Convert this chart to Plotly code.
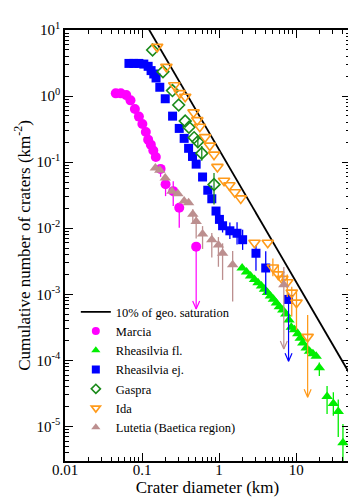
import plotly.graph_objects as go

# ---------------- data ----------------
marcia_D = [0.0456, 0.0530, 0.0624, 0.0708, 0.0807, 0.0910, 0.101, 0.112, 0.120, 0.130,
            0.140, 0.151, 0.174, 0.202, 0.254, 0.304, 0.504]
marcia_N = [1.10, 1.10, 1.035, 0.862, 0.638, 0.489, 0.378, 0.286, 0.219, 0.184,
            0.150, 0.120, 0.0791, 0.0463, 0.0364, 0.0204, 0.00526]
marcia_ep = [0] * 12 + [0.0117, 0.0087, 0.0150, 0.0039, 0]
marcia_em = [0] * 12 + [0.0191, 0.0157, 0.0147, 0.0102, 0]
marcia_tip = 5.98e-4

rfl_D = [1.99, 2.27, 2.56, 2.88, 3.20, 3.55, 3.88, 4.24, 4.63, 5.07, 5.54, 6.05, 6.71, 7.34,
         8.07, 8.65, 9.53, 10.5, 11.3, 12.2, 13.5, 14.9, 16.5, 18.2, 20.0, 25.2, 30.4, 35.2, 40.5]
rfl_N = [2.51e-3, 2.18e-3, 1.90e-3, 1.68e-3, 1.50e-3, 1.34e-3, 1.19e-3, 1.06e-3, 9.46e-4,
         8.45e-4, 7.36e-4, 6.48e-4, 5.78e-4, 5.03e-4, 4.09e-4, 3.18e-4, 2.90e-4, 2.52e-4,
         2.17e-4, 1.83e-4, 1.54e-4, 1.37e-4, 1.26e-4, 1.15e-4, 7.72e-5, 2.84e-5, 2.23e-5,
         1.69e-5, 5.66e-6]
rfl_ep = [0] * 24 + [1.55e-5, 1.26e-5, 1.06e-5, 0.87e-5, 5.2e-6]
rfl_em = [0] * 24 + [1.94e-5, 1.30e-5, 0.78e-5, 1.0e-5, 3.65e-6]

rej_D = [0.0676, 0.0783, 0.0910, 0.1054, 0.120, 0.131, 0.142, 0.152, 0.170, 0.200, 0.249,
         0.304, 0.352, 0.402, 0.452, 0.504, 0.610, 0.713, 0.804, 0.912, 1.01, 1.11, 1.38,
         1.71, 2.02, 3.01, 4.03, 7.97]
rej_N = [3.12, 3.12, 3.12, 3.05, 2.82, 2.43, 2.16, 1.88, 1.36, 0.911, 0.497, 0.324, 0.229,
         0.162, 0.122, 0.0933, 0.0596, 0.0376, 0.0279, 0.0182, 0.0136, 0.0109, 0.00914,
         0.00839, 0.00670, 0.00418, 0.00250, 0.000836]
rej_ep = [0] * 19 + [0.0020, 0.0030, 0.0030, 0.0031, 0.0039, 0.0028, 0.0013, 0.0020, 0.00019]
rej_em = [0] * 19 + [0.0020, 0.0025, 0.0023, 0.0023, 0.0027, 0.0020, 0.0019, 0.0015, 0]
rej_tip = 9.7e-5

gaspra_D = [0.137, 0.187, 0.248, 0.299, 0.363, 0.406, 0.474, 0.530, 0.596, 0.859]
gaspra_N = [4.98, 2.33, 1.21, 0.733, 0.418, 0.337, 0.235, 0.204, 0.136, 0.0458]
gaspra_ep = [0, 0, 0, 0, 0, 0, 0, 0.0386, 0.040, 0.0226]
gaspra_em = [0, 0, 0, 0, 0, 0, 0, 0.0324, 0.031, 0.0229]

ida_D = [0.157, 0.207, 0.262, 0.308, 0.363, 0.466, 0.521, 0.562, 0.658, 0.757, 0.859, 0.951,
         1.16, 1.36, 1.60, 1.91, 2.88, 4.28, 4.99, 5.87, 6.62, 7.67, 8.77, 10.1, 14.1]
ida_N = [5.56, 2.77, 1.46, 1.11, 0.976, 0.566, 0.432, 0.343, 0.239, 0.178, 0.130, 0.0847,
         0.0523, 0.0447, 0.0351, 0.0283, 6.04e-3, 6.04e-3, 2.55e-3, 2.00e-3, 1.71e-3,
         1.52e-3, 1.06e-3, 7.48e-4, 2.27e-4]
ida_ep = [0] * 18 + [0.93e-3, 0.73e-3, 0.39e-3, 0.48e-3, 0.24e-3, 0.40e-3, 2.59e-4]
ida_em = [0] * 18 + [0.68e-3, 0.37e-3, 0.41e-3, 0.61e-3, 0.60e-3, 0.46e-3, 0]
ida_tip = 2.77e-5

lut_D = [0.149, 0.170, 0.200, 0.244, 0.292, 0.352, 0.402, 0.456, 0.504, 0.610, 0.804, 0.980,
         1.11, 1.50, 6.92]
lut_N = [0.0813, 0.0751, 0.0576, 0.0364, 0.0331, 0.0258, 0.0243, 0.0163, 0.0126, 0.00816,
         0.00670, 0.00558, 0.00418, 0.00280, 0.00139]
lut_ep = [0] * 7 + [0.0031, 0.0029, 0.0026, 0.0018, 0.00177, 0.00173, 0.00174, 0.0012]
lut_em = [0] * 7 + [0.0039, 0.0056, 0.0033, 0.0031, 0.00297, 0.00253, 0.00202, 0]
lut_tip = 1.49e-4

# 10% of geometric saturation (N = 0.154 D^-2), end points
sat_D = [0.1, 50]
sat_N = [15.4, 6.16e-5]

x_tickvals = [0.01, 0.1, 1, 10]
x_ticktext = ["0.01", "0.1", "1", "10"]
y_tickvals = [1e-5, 1e-4, 1e-3, 1e-2, 1e-1, 1, 10]
y_ticktext = ["10<sup>-5</sup>", "10<sup>-4</sup>", "10<sup>-3</sup>", "10<sup>-2</sup>",
              "10<sup>-1</sup>", "10<sup>0</sup>", "10<sup>1</sup>"]

# ---------------- styles ----------------
FONT = "Liberation Serif, DejaVu Serif, Times New Roman, serif"
C_MAR = "#ff00ff"
C_RFL = "#00ee00"
C_REJ = "#0000ff"
C_GAS = "#1a8a1a"
C_IDA = "#ff9a1a"
C_LUT = "#bc8f8f"
AH_W = 1.11   # arrow head half width factor (log x)
AH_H = 1.32   # arrow head height factor (log y)

fig = go.Figure()

fig.add_trace(go.Scatter(x=sat_D, y=sat_N, mode="lines", name="10% of geo. saturation",
                         line=dict(color="black", width=1.8), legendrank=1))

rank = [2]


def add_series(name, D, N, ep, em, color, symbol, size, lw=0, leg_size=8):
    fig.add_trace(go.Scatter(
        x=D, y=N, mode="markers", name=name, legendgroup=name, showlegend=False,
        marker=dict(color=color, symbol=symbol, size=size, line=dict(color=color, width=lw)),
        error_y=dict(type="data", symmetric=False, array=ep, arrayminus=em,
                     color=color, thickness=1.3, width=0),
    ))
    # legend entry with a smaller symbol, as in the original figure
    fig.add_trace(go.Scatter(
        x=[None], y=[None], mode="markers", name=name, legendgroup=name,
        legendrank=rank[0],
        marker=dict(color=color, symbol=symbol, size=leg_size,
                    line=dict(color=color, width=lw)),
    ))
    rank[0] += 1


def add_arrow(D, N, tip, color):
    x = D[-1]
    y = N[-1]
    xs = [x, x, None, x * AH_W, x, x / AH_W]
    ys = [y, tip, None, tip * AH_H, tip, tip * AH_H]
    fig.add_trace(go.Scatter(x=xs, y=ys, mode="lines", showlegend=False, hoverinfo="skip",
                             line=dict(color=color, width=1.2)))


add_series("Marcia", marcia_D, marcia_N, marcia_ep, marcia_em, C_MAR, "circle", 10)
add_series("Rheasilvia fl.", rfl_D, rfl_N, rfl_ep, rfl_em, C_RFL, "triangle-up", 10)
add_series("Rheasilvia ej.", rej_D, rej_N, rej_ep, rej_em, C_REJ, "square", 9)
add_series("Gaspra", gaspra_D, gaspra_N, gaspra_ep, gaspra_em, C_GAS, "diamond-open", 9, 1.6, 7)
add_series("Ida", ida_D, ida_N, ida_ep, ida_em, C_IDA, "triangle-down-open", 10, 1.6)
add_series("Lutetia (Baetica region)", lut_D, lut_N, lut_ep, lut_em, C_LUT, "triangle-up", 10)

add_arrow(marcia_D, marcia_N, marcia_tip, C_MAR)
add_arrow(rej_D, rej_N, rej_tip, C_REJ)
add_arrow(ida_D, ida_N, ida_tip, C_IDA)
add_arrow(lut_D, lut_N, lut_tip, C_LUT)

minor_x = [m * 10 ** e for e in range(-2, 2) for m in range(2, 10)]
minor_y = [m * 10 ** e for e in range(-6, 1) for m in range(2, 10)]

axis_common = dict(type="log", showline=True, linecolor="black", linewidth=1.5,
                   mirror="allticks", ticks="inside", ticklen=8, tickwidth=1.2,
                   tickcolor="black", showgrid=False, zeroline=False,
                   tickfont=dict(family=FONT, size=15, color="black"))

fig.update_xaxes(**axis_common, range=[-2, 1.699], tickmode="array",
                 tickvals=x_tickvals, ticktext=x_ticktext, ticklabelstandoff=-6,
                 minor=dict(tickmode="array", tickvals=minor_x, ticks="inside", ticklen=4,
                            tickwidth=1, tickcolor="black", showgrid=False),
                 title=dict(text="Crater diameter (km)", font=dict(family=FONT, size=17),
                            standoff=0))
fig.update_yaxes(**axis_common, range=[-5.523, 1], tickmode="array",
                 tickvals=y_tickvals, ticktext=y_ticktext,
                 minor=dict(tickmode="array", tickvals=minor_y, ticks="inside", ticklen=4,
                            tickwidth=1, tickcolor="black", showgrid=False),
                 title=dict(text="Cumulative number of craters (km<sup>-2</sup>)",
                            font=dict(family=FONT, size=17), standoff=2))

fig.update_layout(
    width=356, height=503,
    margin=dict(l=57, r=12, t=17, b=50),
    paper_bgcolor="white", plot_bgcolor="white",
    font=dict(family=FONT, color="black"),
    showlegend=True,
    legend=dict(x=0.038, y=0.38, xanchor="left", yanchor="top",
                bgcolor="rgba(0,0,0,0)", font=dict(family=FONT, size=12.5, color="black"),
                itemsizing="trace", tracegroupgap=0, groupclick="togglegroup"),
)

fig.write_html("out.html")
